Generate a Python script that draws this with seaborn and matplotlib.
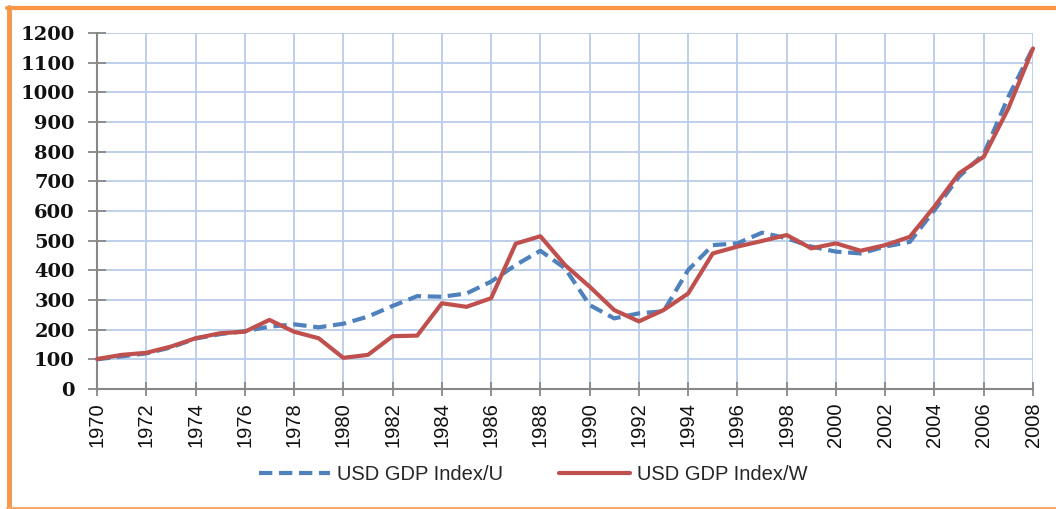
import numpy as np
import pandas as pd
import matplotlib
matplotlib.use("Agg")
import matplotlib.pyplot as plt
from matplotlib.lines import Line2D
import seaborn as sns

# yearly index values
years = list(range(1970, 2009))
gdp_u = [100, 110, 120, 140, 170, 185, 195, 210, 218, 208,
         220, 244, 280, 313, 311, 322, 362, 418, 466, 407,
         283, 238, 255, 262, 401, 485, 491, 527, 508, 480,
         463, 457, 480, 496, 603, 716, 792, 985, 1150]
gdp_w = [101, 115, 122, 143, 171, 188, 193, 233, 193, 171,
         105, 115, 178, 180, 289, 277, 306, 490, 515, 418,
         345, 266, 228, 266, 322, 457, 480, 499, 519, 474,
         491, 466, 485, 513, 615, 727, 783, 946, 1148]
label_u = "USD GDP Index/U"
label_w = "USD GDP Index/W"

df = pd.DataFrame({"year": years, "U": gdp_u, "W": gdp_w})

sns.set_style("white")
plt.rcParams['font.family'] = ['Liberation Sans', 'DejaVu Sans']

blue = "#4F81BD"
red = "#C0504D"
grid_col = "#B9CDE8"
axis_col = "#878787"

fig = plt.figure(figsize=(10.56, 5.09), dpi=100)
ax = fig.add_axes([97/1056, 1 - 389/509, (1033 - 97)/1056, (389 - 33)/509])

sns.lineplot(data=df, x="year", y="U", ax=ax, color=blue, lw=3,
             linestyle=(0, (3.2, 1.6)), clip_on=False, zorder=3)
sns.lineplot(data=df, x="year", y="W", ax=ax, color=red, lw=3,
             clip_on=False, zorder=4)

ax.set_xlim(1970, 2008)
ax.set_ylim(0, 1200)
ax.set_xticks(range(1970, 2009, 2))
ax.set_yticks(range(0, 1201, 100))
ax.set_xlabel("")
ax.set_ylabel("")

ax.grid(True, color=grid_col, lw=1.3)
ax.set_axisbelow(True)
for s in ["top", "right"]:
    ax.spines[s].set_visible(False)
for s in ["left", "bottom"]:
    ax.spines[s].set_color(axis_col)
    ax.spines[s].set_linewidth(1.5)
    ax.spines[s].set_zorder(2)

ax.tick_params(axis="y", direction="inout", length=13, width=1.3,
               color=axis_col, pad=9.5, left=True)
ax.tick_params(axis="x", direction="inout", length=10, width=1.3,
               color=axis_col, pad=4.5, bottom=True)
for t in ax.get_yticklabels():
    t.set_family(["DejaVu Serif"])
    t.set_fontsize(14)
    t.set_fontweight("bold")
    t.set_color("#111111")
for t in ax.get_xticklabels():
    t.set_rotation(90)
    t.set_fontsize(14.5)
    t.set_color("#111111")

handles = [Line2D([], [], color=blue, lw=3, linestyle=(0, (3.2, 1.6))),
           Line2D([], [], color=red, lw=3)]
fig.legend(handles, [label_u, label_w], loc="center",
           bbox_to_anchor=(0.505, 1 - 475/509), ncol=2, frameon=False,
           fontsize=14.5, handlelength=3.5, handletextpad=0.35,
           columnspacing=2.8)

# orange frame (left, top and bottom edges)
fig.add_artist(Line2D([8.5/1056, 8.5/1056], [1 - 7/509, 1 - 507/509],
                      transform=fig.transFigure, color="#F79646", lw=3.5))
fig.add_artist(Line2D([7/1056, 1], [1 - 7.5/509, 1 - 7.5/509],
                      transform=fig.transFigure, color="#F79646", lw=3))
fig.add_artist(Line2D([7/1056, 1], [1 - 507.5/509, 1 - 507.5/509],
                      transform=fig.transFigure, color="#F8A868", lw=1.5))

fig.savefig("out.png", dpi=100)
